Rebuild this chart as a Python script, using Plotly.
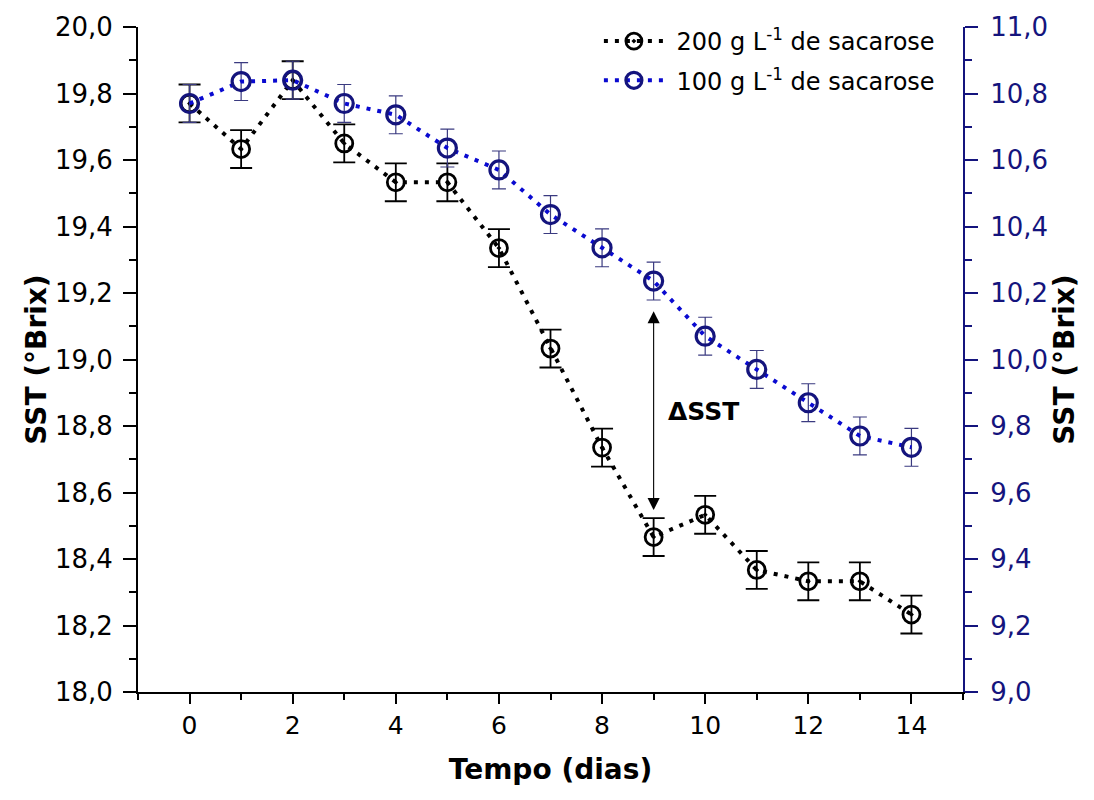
import plotly.graph_objects as go

dias = list(range(15))
sst_200 = [19.77, 19.633, 19.84, 19.65, 19.533, 19.533, 19.335, 19.033, 18.735,
           18.466, 18.533, 18.367, 18.333, 18.333, 18.233]
err_200 = [0.057] * 15
sst_100 = [10.77, 10.836, 10.84, 10.77, 10.736, 10.636, 10.57, 10.436, 10.336,
           10.236, 10.07, 9.97, 9.87, 9.77, 9.736]
err_100 = [0.057] * 15

FONT = "DejaVu Sans, Liberation Sans, Arial, sans-serif"
NAVY = "#14147d"
BLUE = "#0a0ad0"

fig = go.Figure()

fig.add_trace(go.Scatter(
    x=dias, y=sst_200, name=" 200 g L<sup>-1</sup> de sacarose",
    mode="lines+markers", legendgroup="a",
    line=dict(color="black", width=4, dash="4px,7px"),
    marker=dict(symbol="circle-open-dot", size=17, color="black",
                line=dict(width=2.8, color="black")),
    error_y=dict(type="data", array=err_200, visible=True, color="black",
                 thickness=1.8, width=11),
    yaxis="y",
))

fig.add_trace(go.Scatter(
    x=dias, y=sst_100, name=" 100 g L<sup>-1</sup> de sacarose",
    mode="lines+markers", legendgroup="b",
    line=dict(color=BLUE, width=4, dash="4px,7px"),
    marker=dict(symbol="circle-open", size=18, color=NAVY,
                line=dict(width=3.2, color=NAVY)),
    error_y=dict(type="data", array=err_100, visible=True, color="#3a3a80",
                 thickness=1.2, width=7),
    yaxis="y2",
))

# Delta SST double arrow at day 9
fig.add_annotation(
    x=9, y=18.547, ax=9, ay=19.150, xref="x", yref="y", axref="x", ayref="y",
    text="", showarrow=True, arrowhead=2, startarrowhead=2, arrowside="end+start",
    arrowsize=2.2, startarrowsize=2.2, arrowwidth=1.1, arrowcolor="black",
)
fig.add_annotation(
    x=9.24, y=18.845, xref="x", yref="y", text="<b>ΔSST</b>", showarrow=False,
    xanchor="left", yanchor="middle", font=dict(family=FONT, size=25, color="black"),
)

fig.update_layout(
    width=1094, height=800,
    margin=dict(l=138, r=131, t=27, b=108),
    paper_bgcolor="white", plot_bgcolor="white",
    separators=", ",
    font=dict(family=FONT, color="black"),
    showlegend=True,
    legend=dict(x=0.972, y=1.012, xanchor="right", yanchor="top",
                bgcolor="rgba(0,0,0,0)", font=dict(family=FONT, size=24),
                itemwidth=60, traceorder="grouped", tracegroupgap=5),
    xaxis=dict(
        range=[-1, 15], tickmode="array", tickvals=[0, 2, 4, 6, 8, 10, 12, 14],
        showgrid=False, zeroline=False, showline=True, linecolor="black", linewidth=2,
        ticks="outside", ticklen=10, tickwidth=2, tickcolor="black",
        minor=dict(tickvals=[-1, 1, 3, 5, 7, 9, 11, 13, 15], ticks="outside",
                   ticklen=6, tickwidth=2, tickcolor="black"),
        tickfont=dict(family=FONT, size=25, color="black"),
        title=dict(text="<b>Tempo (dias)</b>", font=dict(family=FONT, size=28),
                   standoff=20),
    ),
    yaxis=dict(
        range=[18, 20], tickmode="array",
        tickvals=[18.0, 18.2, 18.4, 18.6, 18.8, 19.0, 19.2, 19.4, 19.6, 19.8, 20.0],
        tickformat=".1f",
        showgrid=False, zeroline=False, showline=True, linecolor="black", linewidth=2,
        ticks="outside", ticklen=13, tickwidth=2, tickcolor="black",
        minor=dict(dtick=0.1, ticks="outside", ticklen=7, tickwidth=2, tickcolor="black"),
        tickfont=dict(family=FONT, size=26, color="black"),
        ticklabelstandoff=5,
        title=dict(text="<b>SST (°Brix)</b>", font=dict(family=FONT, size=28),
                   standoff=0),
    ),
    yaxis2=dict(
        range=[9, 11], overlaying="y", side="right", tickmode="array",
        tickvals=[9.0, 9.2, 9.4, 9.6, 9.8, 10.0, 10.2, 10.4, 10.6, 10.8, 11.0],
        tickformat=".1f",
        showgrid=False, zeroline=False, showline=True, linecolor=NAVY, linewidth=2,
        ticks="outside", ticklen=13, tickwidth=2, tickcolor=NAVY,
        minor=dict(dtick=0.1, ticks="outside", ticklen=7, tickwidth=2, tickcolor=NAVY),
        tickfont=dict(family=FONT, size=26, color=NAVY),
        ticklabelstandoff=7,
        title=dict(text="<b>SST (°Brix)</b>", font=dict(family=FONT, size=28, color="black"),
                   standoff=6),
    ),
)

fig.write_html("out.html")
